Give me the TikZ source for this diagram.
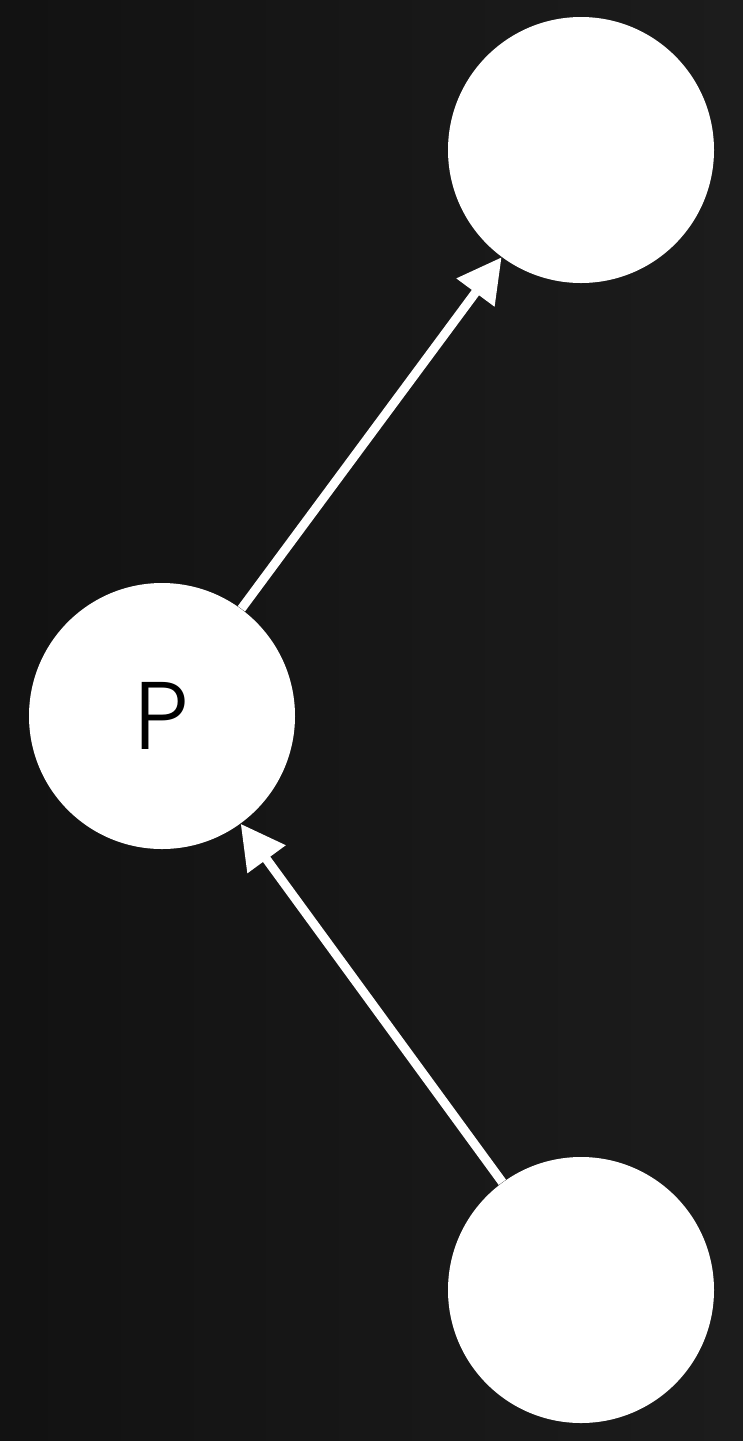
\documentclass[tikz,border=0pt]{standalone}
\usepackage{fontspec}
\setmainfont{Poppins}[UprightFont=* Light]
\usetikzlibrary{arrows.meta}
\begin{document}
\begin{tikzpicture}[x=0.5pt,y=-0.5pt,
  dot/.style={circle,fill=white,draw=none,minimum size=133pt,inner sep=0pt},
  link/.style={draw=white,line width=4.5pt,-{Triangle[length=22pt,width=22.5pt]}}]
\shade[left color=black!93!white,right color=black!89!white] (0,0) rectangle (743,1441);
\useasboundingbox (0,0) rectangle (743,1441);
\node[dot] (top) at (581,150) {};
\node[dot] (p) at (162,716) {\fontsize{48}{48}\selectfont P};
\node[dot] (bot) at (581,1290) {};
\draw[link] (p) -- (top);
\draw[link] (bot) -- (p);
\end{tikzpicture}
\end{document}
